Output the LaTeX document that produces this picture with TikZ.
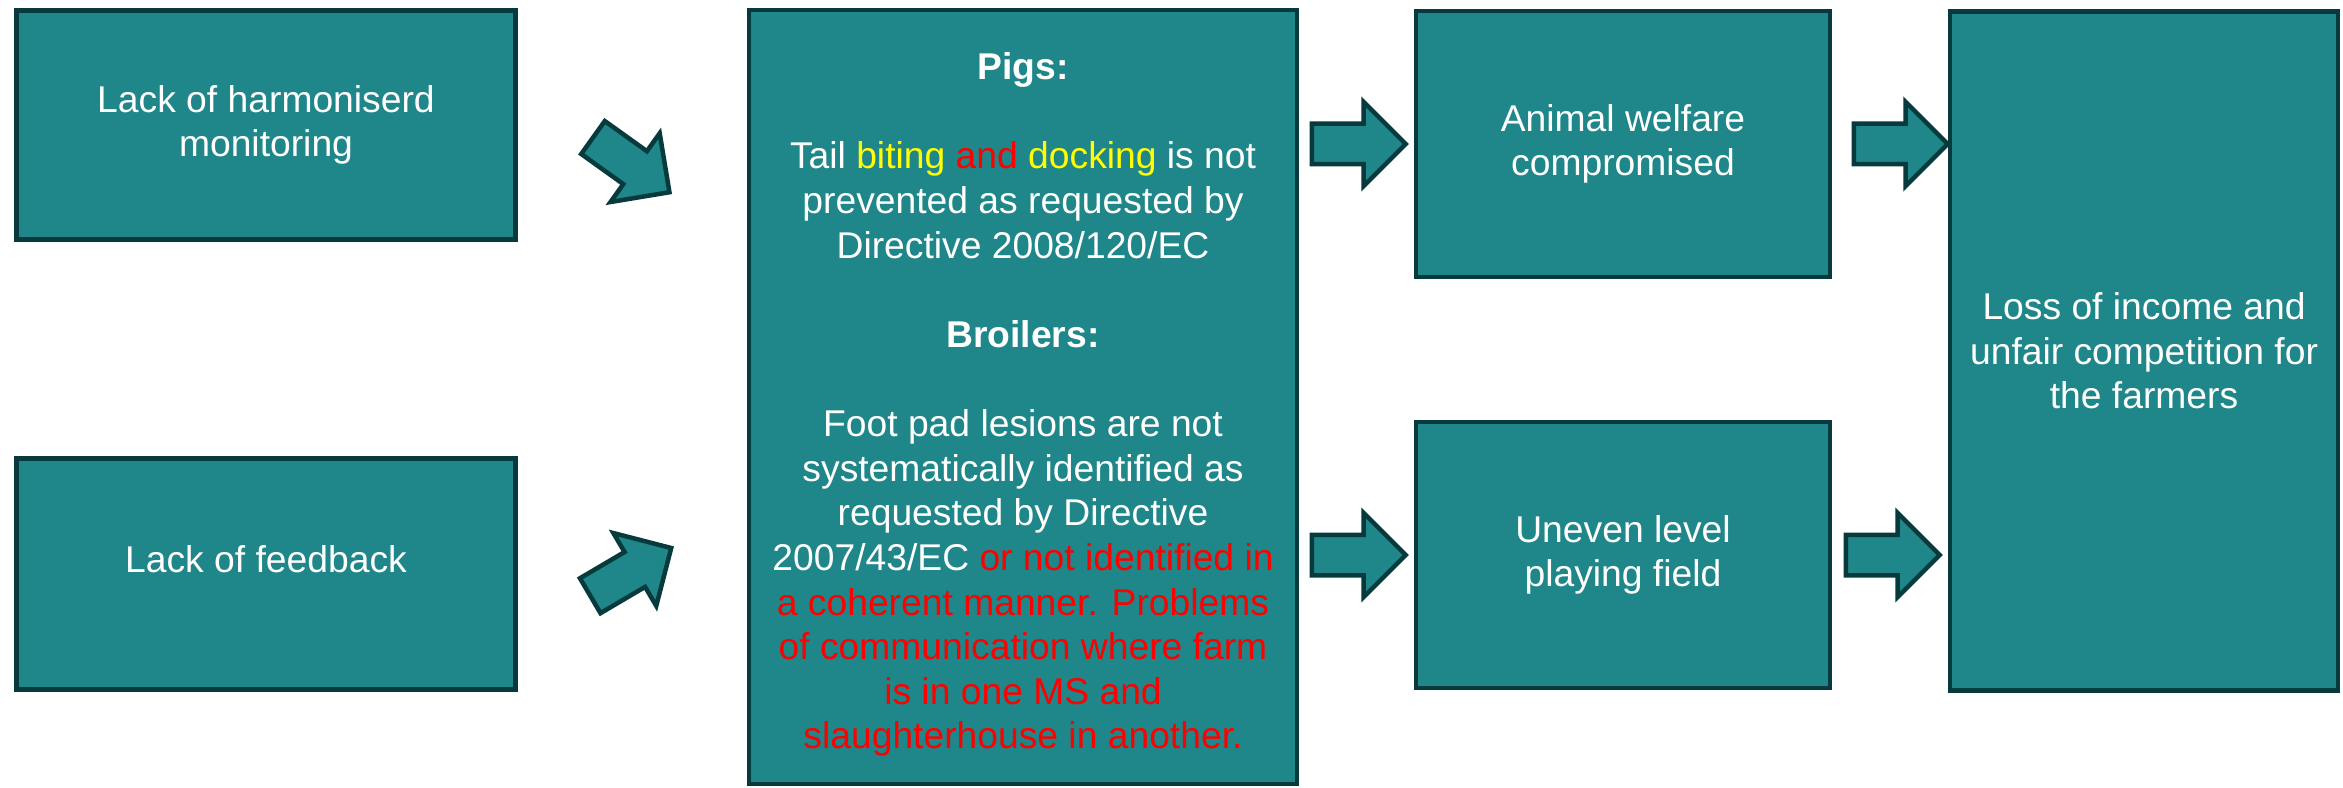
\documentclass[tikz,border=0pt]{standalone}
\usepackage{fontspec}
\setmainfont{Liberation Sans}
\usetikzlibrary{shapes.arrows}
\definecolor{tealfill}{RGB}{31,134,137}
\definecolor{tealedge}{RGB}{6,58,60}
\definecolor{ppred}{RGB}{255,0,0}
\definecolor{ppyellow}{RGB}{255,255,0}
\tikzset{
	box/.style={draw=tealedge, fill=tealfill, line width=0.45mm, text=white, align=center, inner sep=0pt, font=\fontsize{10.6}{12.7}\selectfont},
	barrow/.style={single arrow, draw=tealedge, fill=tealfill, line width=0.45mm, minimum height=9.4mm, minimum width=8mm, single arrow head extend=2.2mm, single arrow tip angle=90, inner xsep=0pt, inner ysep=1.8mm, outer sep=0pt}
}

\begin{document}
\begin{tikzpicture}[x=0.1mm, y=-0.1mm]
			%%%%% START %%%%%
			\useasboundingbox (0, 0) rectangle (2343, 788);
			
			\node[box, minimum width=49.9mm, minimum height=22.9mm] (harm) at (266, 125) {Lack of harmoniserd\\monitoring};
			\node[box, minimum width=49.9mm, minimum height=23.1mm] (feedback) at (266, 574) {\raisebox{4.3pt}[\height][\depth]{Lack of feedback}};
			
			\node[box, minimum width=54.8mm, minimum height=77.4mm] (pigs) at (1023, 397) {\rule{0pt}{12pt}\textbf{Pigs:}\\[12.7pt]
				Tail \textcolor{ppyellow}{biting} \textcolor{ppred}{and} \textcolor{ppyellow}{docking} is not\\
				prevented as requested by\\
				Directive 2008/120/EC\\[12.7pt]
				\textbf{Broilers:}\\[12.7pt]
				Foot pad lesions are not\\
				systematically identified as\\
				requested by Directive\\
				2007/43/EC \textcolor{ppred}{or not identified in}\\
				\textcolor{ppred}{a coherent manner. Problems}\\
				\textcolor{ppred}{of communication where farm}\\
				\textcolor{ppred}{is in one MS and}\\
				\textcolor{ppred}{slaughterhouse in another.}};
			
			\node[box, minimum width=41.4mm, minimum height=26.6mm] (welfare) at (1623, 144) {Animal welfare\\compromised};
			\node[box, minimum width=41.4mm, minimum height=26.6mm] (uneven) at (1623, 555) {Uneven level\\playing field};
			\node[box, minimum width=38.8mm, minimum height=67.9mm] (loss) at (2144, 351) {Loss of income and\\unfair competition for\\the farmers};
			
			% block arrows
			\node[barrow, rotate=-35.6] (arrharm) at (623, 159) {};
			\node[barrow, rotate=30.5] (arrfeed) at (622, 577) {};
			\node[barrow, anchor=tip] (arrwelf) at ([xshift=-0.8mm]welfare.west) {};
			\node[barrow, anchor=tip] (arrunev) at ([xshift=-0.8mm]uneven.west) {};
			\node[barrow, anchor=tip] (arrloss1) at (loss.west |- welfare.east) {};
			\node[barrow, anchor=tip] (arrloss2) at ([xshift=-0.8mm]loss.west |- uneven.east) {};
			
			%%%%% END %%%%%
\end{tikzpicture}
\end{document}
